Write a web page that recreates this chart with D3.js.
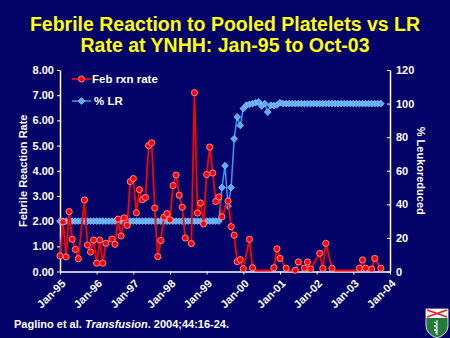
<!DOCTYPE html>
<html>
<head>
<meta charset="utf-8">
<script src="https://cdn.jsdelivr.net/npm/d3@7"></script>
<style>
  body { margin: 0; background: #020268; }
  svg { display: block; font-family: 'Liberation Sans', Arial, sans-serif; }
  .axis path, .axis line { stroke: #ffffff; }
  .axis text { fill: #ffffff; font-weight: bold; font-size: 11px; }
</style>
</head>
<body>
<div id="chart"></div>
<script>
// x ticks: one per January, months counted from Jan-95
const yearTicks = ['Jan-95', 'Jan-96', 'Jan-97', 'Jan-98', 'Jan-99', 'Jan-00', 'Jan-01', 'Jan-02', 'Jan-03', 'Jan-04'];
const yearTickMonths = [0, 12, 24, 36, 48, 60, 72, 84, 96, 108];

// Feb rxn rate (left axis), month index and value
const febMonths = [0, 1, 2, 3, 4, 5, 6, 8, 9, 10, 11, 12, 13, 14, 15, 17, 18, 19, 20, 21, 22, 23, 24, 25, 26, 27, 28, 29, 30,
  31, 32, 33, 34, 35, 36, 37, 38, 39, 40, 41, 43, 44, 45, 46, 47, 48, 49, 50, 51, 52, 53, 55, 56, 57, 58, 59, 60, 62, 63,
  64, 65, 66, 67, 68, 69, 70, 71, 72, 74, 75, 76, 77, 78, 80, 81, 82, 85, 86, 87, 89,
  90, 91, 92, 93, 94, 95, 96, 97, 98, 99, 100, 102, 103, 105];
const febRate = [0.62, 1.97, 0.58, 2.38, 1.28, 0.88, 0.51, 2.84, 1.05, 0.77, 1.25, 0.33, 1.25, 0.33, 1.12, 1.29, 1.08, 2.08, 1.41, 2.13, 1.83, 3.57, 3.69, 2.33, 3.25, 2.85, 2.94, 5.00, 5.11,
  2.52, 0.59, 1.23, 2.16, 2.30, 2.05, 3.41, 3.83, 3.03, 2.55, 1.33, 1.11, 7.10, 2.32, 2.72, 1.89, 3.85, 4.94, 3.91, 2.78, 2.96, 2.17, 2.80, 1.78, 1.44, 0.39, 0.47, 0.11, 1.28, 0.15,
  0, 0, 0, 0, 0, 0, 0.15, 0.90, 0.52, 0.13, 0, 0, 0.05, 0.38, 0.13, 0.38, 0.10, 0.72, 0.12, 1.12, 0.13,
  0, 0, 0, 0, 0, 0, 0, 0, 0.13, 0.46, 0.13, 0.10, 0.52, 0.13];

// % LR (right axis), one value per month Jan-95 .. Oct-03
const lrPct = [30, 30, 30, 30, 30, 30, 30, 30, 30, 30, 30, 30,
  30, 30, 30, 30, 30, 30, 30, 30, 30, 30, 30, 30,
  30, 30, 30, 30, 30, 30, 30, 30, 30, 30, 30, 30,
  30, 30, 30, 30, 30, 30, 30, 30, 30, 30, 30, 30,
  30, 30, 30, 30, 30, 50, 63, 39, 50, 79, 92, 87,
  97, 99, 99.5, 100, 100.5, 101, 98.6, 100, 95, 99, 98.8, 99.2,
  100.5, 100, 100, 100, 100, 100, 100, 100, 100, 100, 100, 100,
  100, 100, 100, 100, 100, 100, 100, 100, 100, 100, 100, 100,
  100, 100, 100, 100, 100, 100, 100, 100, 100, 100];

const leftTicks = [0, 1, 2, 3, 4, 5, 6, 7, 8];
const rightTicks = [0, 20, 40, 60, 80, 100, 120];

const width = 450;
const height = 338;
const plot = { left: 60, right: 390, top: 70, bottom: 271.5 };

const svg = d3.select('#chart').append('svg')
  .attr('width', width)
  .attr('height', height);

svg.append('rect').attr('width', width).attr('height', height).attr('fill', '#020268');

/* Title */
const title = svg.append('text')
  .attr('text-anchor', 'middle')
  .attr('fill', '#ffff00')
  .style('font-weight', 'bold')
  .style('font-size', '19.5px');
title.append('tspan').attr('x', 225).attr('y', 31).text('Febrile Reaction to Pooled Platelets vs LR');
title.append('tspan').attr('x', 225).attr('y', 52).text('Rate at YNHH: Jan-95 to Oct-03');

/* Scales */
const x = d3.scaleLinear().domain([0, 108]).range([plot.left, plot.right]);
const yLeft = d3.scaleLinear().domain([0, 8]).range([plot.bottom, plot.top]);
const yRight = d3.scaleLinear().domain([0, 120]).range([plot.bottom, plot.top]);

/* Axes */
const xAxis = svg.append('g').attr('class', 'axis')
  .attr('transform', 'translate(0,' + plot.bottom + ')')
  .call(d3.axisBottom(x).tickValues(yearTickMonths).tickSize(3).tickSizeOuter(0)
    .tickFormat((d, i) => yearTicks[i]));
xAxis.selectAll('text')
  .attr('x', 0).attr('y', 0).attr('dy', '0.35em')
  .attr('text-anchor', 'end')
  .attr('transform', 'translate(3,10) rotate(-45)');

svg.append('g').attr('class', 'axis')
  .attr('transform', 'translate(' + plot.left + ',0)')
  .call(d3.axisLeft(yLeft).tickValues(leftTicks).tickSize(3).tickSizeOuter(0).tickFormat(d3.format('.2f')));

svg.append('g').attr('class', 'axis')
  .attr('transform', 'translate(' + plot.right + ',0)')
  .call(d3.axisRight(yRight).tickValues(rightTicks).tickSize(-3).tickSizeOuter(0).tickPadding(6));

svg.selectAll('.axis path').attr('stroke-width', 1.5);

/* Axis titles */
svg.append('text')
  .attr('transform', 'translate(23,' + (plot.top + plot.bottom) / 2 + ') rotate(-90)')
  .attr('text-anchor', 'middle')
  .attr('dy', '0.35em')
  .attr('fill', '#ffffff')
  .style('font-weight', 'bold')
  .style('font-size', '11px')
  .text('Febrile Reaction Rate');

svg.append('text')
  .attr('transform', 'translate(421,' + (plot.top + plot.bottom) / 2 + ') rotate(90)')
  .attr('text-anchor', 'middle')
  .attr('dy', '0.35em')
  .attr('fill', '#ffffff')
  .style('font-weight', 'bold')
  .style('font-size', '11px')
  .text('% Leukoreduced');

/* % LR series */
const diamond = 'M0,-3.4L3.4,0L0,3.4L-3.4,0Z';
const lrData = lrPct.map((v, i) => ({ m: i, v: v }));

svg.append('path')
  .datum(lrData)
  .attr('fill', 'none')
  .attr('stroke', '#3399ff')
  .attr('stroke-width', 1.5)
  .attr('d', d3.line().x(d => x(d.m)).y(d => yRight(d.v)));

svg.selectAll('.lr')
  .data(lrData)
  .enter()
  .append('path')
  .attr('class', 'lr')
  .attr('d', diamond)
  .attr('transform', d => 'translate(' + x(d.m) + ',' + yRight(d.v) + ')')
  .attr('fill', '#55aaff')
  .attr('stroke', '#a9d6ff')
  .attr('stroke-width', 0.7);

/* Feb rxn rate series */
const febData = febMonths.map((m, i) => ({ m: m, v: febRate[i] }));

svg.append('path')
  .datum(febData)
  .attr('fill', 'none')
  .attr('stroke', '#ff0000')
  .attr('stroke-width', 1.8)
  .attr('d', d3.line().x(d => x(d.m)).y(d => Math.min(yLeft(d.v), plot.bottom - 1)));

svg.selectAll('.feb')
  .data(febData.filter(d => d.v > 0))
  .enter()
  .append('circle')
  .attr('class', 'feb')
  .attr('cx', d => x(d.m))
  .attr('cy', d => yLeft(d.v))
  .attr('r', 3.1)
  .attr('fill', '#ff0000')
  .attr('stroke', '#ffaaaa')
  .attr('stroke-width', 0.8);

/* Legend */
const legend = svg.append('g').attr('transform', 'translate(72,0)');
legend.append('line').attr('x1', 0).attr('x2', 19).attr('y1', 79).attr('y2', 79)
  .attr('stroke', '#ff0000').attr('stroke-width', 1.8);
legend.append('circle').attr('cx', 9.5).attr('cy', 79).attr('r', 3.1)
  .attr('fill', '#ff0000').attr('stroke', '#ffaaaa').attr('stroke-width', 0.8);
legend.append('text').attr('x', 20).attr('y', 83).attr('fill', '#ffffff')
  .style('font-weight', 'bold').style('font-size', '11.5px').text('Feb rxn rate');

legend.append('line').attr('x1', 0).attr('x2', 19).attr('y1', 101).attr('y2', 101)
  .attr('stroke', '#3399ff').attr('stroke-width', 1.5);
legend.append('path').attr('d', diamond).attr('transform', 'translate(9.5,101)')
  .attr('fill', '#55aaff').attr('stroke', '#a9d6ff').attr('stroke-width', 0.7);
legend.append('text').attr('x', 22).attr('y', 105).attr('fill', '#ffffff')
  .style('font-weight', 'bold').style('font-size', '11.5px').text('% LR');

/* Footer citation */
const cite = svg.append('text')
  .attr('x', 14).attr('y', 328)
  .attr('fill', '#ffffff')
  .style('font-weight', 'bold')
  .style('font-size', '11px');
cite.append('tspan').text('Paglino et al. ');
cite.append('tspan').style('font-style', 'italic').text('Transfusion');
cite.append('tspan').text('. 2004;44:16-24.');

/* Shield logo */
const shield = svg.append('g').attr('transform', 'translate(426,309)');
shield.append('path')
  .attr('d', 'M0,0H22V17Q22,25 11,29Q0,25 0,17Z')
  .attr('fill', '#1f7a3c').attr('stroke', '#ffffff').attr('stroke-width', 0.8);
shield.append('rect').attr('x', 0).attr('y', 0).attr('width', 22).attr('height', 9)
  .attr('fill', '#ffffff');
shield.append('path').attr('d', 'M1,1L21,8M21,1L1,8')
  .attr('stroke', '#e02020').attr('stroke-width', 1.6);
shield.append('path').attr('d', 'M11,11V26M8,13Q14,15 8,17Q14,19 8,21Q14,23 9,24')
  .attr('fill', 'none').attr('stroke', '#ffffff').attr('stroke-width', 1);
</script>
</body>
</html>
